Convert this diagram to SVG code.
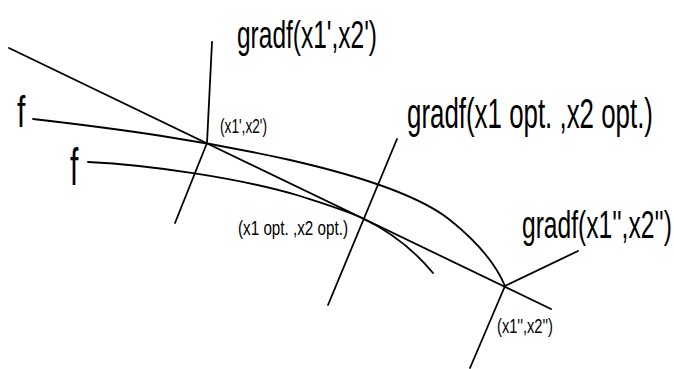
<svg xmlns="http://www.w3.org/2000/svg" width="674" height="369" viewBox="0 0 674 369">
<style>
.ln{fill:none;stroke:#000;stroke-width:1.8;stroke-linecap:round;stroke-linejoin:round}
.t{font-family:"Liberation Sans",Arial,sans-serif;fill:#000}
</style>
<rect width="674" height="369" fill="#fff"/>
<g id="connectors">
<path id="tangent" class="ln" d="M9,48 L551,309"/>
<path id="f-upper" class="ln" d="M33,119 C120,129 200,140 290,160 C360,176 420,196 450,220 C475,240 495,262 505,286"/>
<path id="f-lower" class="ln" d="M88,162 C150,165 240,178 300,196 C325,204 345,210 362,218 C385,229 410,245 433,273"/>
<path id="grad1" class="ln" d="M212,42 L207,143 L175,223"/>
<path id="grad-opt" class="ln" d="M397,139 L328,305"/>
<path id="grad2" class="ln" d="M578,251 L505,286 L470,368"/>
</g>
<g id="label-grad1"><text class="t" transform="translate(237,48) scale(1,1.55)" font-size="24.5" textLength="140" lengthAdjust="spacingAndGlyphs">gradf(x1',x2')</text></g>
<g id="label-grad-opt"><text class="t" transform="translate(407,128) scale(1,1.62)" font-size="25.9" textLength="246" lengthAdjust="spacingAndGlyphs">gradf(x1 opt. ,x2 opt.)</text></g>
<g id="label-grad2"><text class="t" transform="translate(522,238) scale(1,1.545)" font-size="24.6" textLength="150" lengthAdjust="spacingAndGlyphs">gradf(x1'',x2'')</text></g>
<g id="point1"><text class="t" transform="translate(220,133) scale(1,1.53)" font-size="13.7" textLength="47" lengthAdjust="spacingAndGlyphs">(x1',x2')</text></g>
<g id="point-opt"><text class="t" transform="translate(238,235) scale(1,1.38)" font-size="15.2" textLength="110" lengthAdjust="spacingAndGlyphs">(x1 opt. ,x2 opt.)</text></g>
<g id="point2"><text class="t" transform="translate(497,333) scale(1,1.43)" font-size="14.7" textLength="56" lengthAdjust="spacingAndGlyphs">(x1'',x2'')</text></g>
<g id="f1"><text class="t" transform="translate(17,127) scale(1,1.5)" font-size="30">f</text></g>
<g id="f2"><text class="t" transform="translate(70,185) scale(1,1.7)" font-size="30">f</text></g>
</svg>
